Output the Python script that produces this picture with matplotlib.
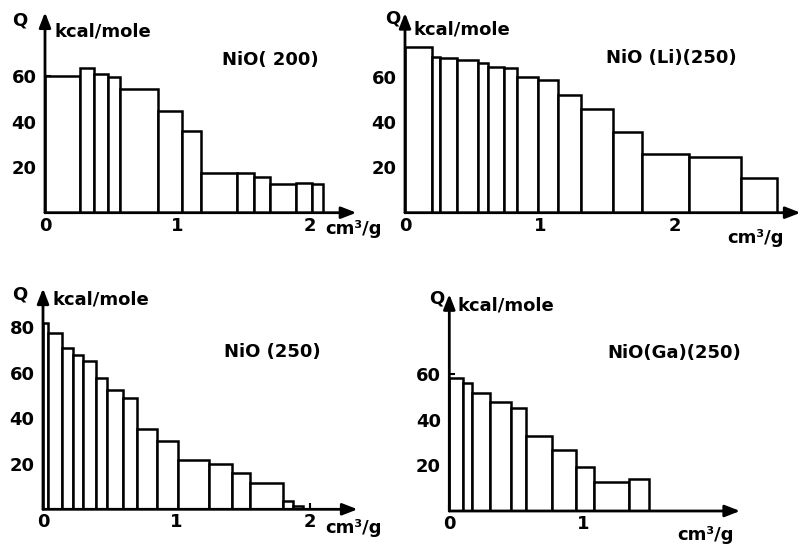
import matplotlib
matplotlib.use("Agg")
import matplotlib.pyplot as plt
import numpy as np

# ---------------- data ----------------
# NiO(200)
nio200_edges = [0, 0.2625, 0.37, 0.475, 0.5675, 0.855, 1.0375, 1.18, 1.45, 1.575, 1.70, 1.895, 2.0125, 2.10]
nio200_q = [60, 63.4, 60.9, 59.7, 54.3, 44.6, 35.9, 17.6, 17.3, 15.8, 12.4, 13.2, 12.6]

# NiO(Li)(250)
nioli_edges = [0, 0.1975, 0.259, 0.383, 0.543, 0.612, 0.736, 0.827, 0.983, 1.131, 1.304,
               1.543, 1.753, 2.106, 2.486, 2.753]
nioli_q = [72.8, 68.5, 68.3, 67.4, 65.9, 64.4, 63.7, 59.7, 58.5, 51.9, 45.7, 35.4, 25.7, 24.7, 15.1]

# NiO(250)
nio250_edges = [0, 0.0375, 0.14, 0.2225, 0.2975, 0.3975, 0.4825, 0.6025, 0.7075, 0.8525,
                1.015, 1.2475, 1.415, 1.5525, 1.7975, 1.875, 1.9525]
nio250_q = [81.8, 77.6, 71, 67.8, 65.3, 57.5, 52.4, 48.8, 35.3, 30, 21.5, 19.9, 16.1, 11.4, 3.5, 1.5]

# NiO(Ga)(250)
nioga_edges = [0, 0.104, 0.167, 0.303, 0.458, 0.570, 0.769, 0.943, 1.080, 1.343, 1.493]
nioga_q = [58.1, 55.9, 51.5, 47.9, 45.0, 32.8, 26.7, 19.4, 12.6, 13.9]

titles = ["NiO( 200)", "NiO (Li)(250)", "NiO (250)", "NiO(Ga)(250)"]
ylabel = "kcal/mole"
xlabel = "cm\u00b3/g"

W, H = 801, 545
fig = plt.figure(figsize=(W / 100, H / 100), dpi=100)
fig.patch.set_facecolor("white")

FONT = dict(family="DejaVu Sans", weight="bold", color="black")
LW = 1.8


def ftext(x, y, s, size=13, ha="left", va="center"):
    fig.text(x / W, 1 - y / H, s, ha=ha, va=va, fontsize=size, **FONT)


def panel(ox, oy, xu, yu, xmax, ymax, edges, q, xt, yt, ymin_ticks):
    ax = fig.add_axes([ox / W, (H - oy) / H, xmax * xu / W, ymax * yu / H])
    ax.set_xlim(0, xmax)
    ax.set_ylim(0, ymax)
    for s in ax.spines.values():
        s.set_visible(False)
    ax.patch.set_alpha(0)
    e = np.array(edges)
    ax.bar(e[:-1], q, width=np.diff(e), align="edge", facecolor="white",
           edgecolor="black", linewidth=LW, zorder=2)
    # axes with arrows
    ax.annotate("", xy=(xmax, 0), xytext=(0, 0), xycoords="data",
                arrowprops=dict(arrowstyle="-|>,head_length=0.9,head_width=0.35",
                                color="black", lw=2.0, shrinkA=0, shrinkB=0),
                annotation_clip=False, zorder=3)
    ax.annotate("", xy=(0, ymax), xytext=(0, 0), xycoords="data",
                arrowprops=dict(arrowstyle="-|>,head_length=0.9,head_width=0.35",
                                color="black", lw=2.0, shrinkA=0, shrinkB=0),
                annotation_clip=False, zorder=3)
    ax.set_xticks(xt)
    ax.set_xticklabels([str(v) for v in xt], fontsize=13, **FONT)
    ax.set_yticks(yt)
    ax.set_yticklabels([str(v) for v in yt], fontsize=13, **FONT)
    ax.set_yticks(ymin_ticks, minor=True)
    ax.tick_params(axis="both", which="both", direction="in", width=1.5, length=4)
    ax.tick_params(axis="x", pad=3)
    ax.tick_params(axis="y", pad=6)
    return ax


panel(45, 212.7, 132.5, 2.277, 2.35, 88, nio200_edges, nio200_q,
      [0, 1, 2], [20, 40, 60], [10, 30, 50])
panel(405, 212.7, 135, 2.27, 2.93, 88, nioli_edges, nioli_q,
      [0, 1, 2], [20, 40, 60], [10, 30, 50])
panel(43, 509.3, 133.3, 2.277, 2.36, 97, nio250_edges, nio250_q,
      [0, 1, 2], [20, 40, 60, 80], [10, 30, 50, 70])
panel(449.3, 511, 134, 2.283, 2.17, 95, nioga_edges, nioga_q,
      [0, 1], [20, 40, 60], [10, 30, 50])

# axis names and titles
ftext(12, 20, "Q")
ftext(55, 31, ylabel)
ftext(270, 60, titles[0], ha="center")
ftext(325, 229, xlabel)

ftext(385, 18, "Q")
ftext(413, 30, ylabel)
ftext(671, 58, titles[1], ha="center")
ftext(755, 238, xlabel, ha="center")

ftext(12, 295, "Q")
ftext(53, 299, ylabel)
ftext(272, 352, titles[2], ha="center")
ftext(325, 528, xlabel)

ftext(429, 298, "Q")
ftext(458, 306, ylabel)
ftext(674, 353, titles[3], ha="center")
ftext(705, 535, xlabel, ha="center")

fig.savefig("out.png", dpi=100, facecolor="white")
